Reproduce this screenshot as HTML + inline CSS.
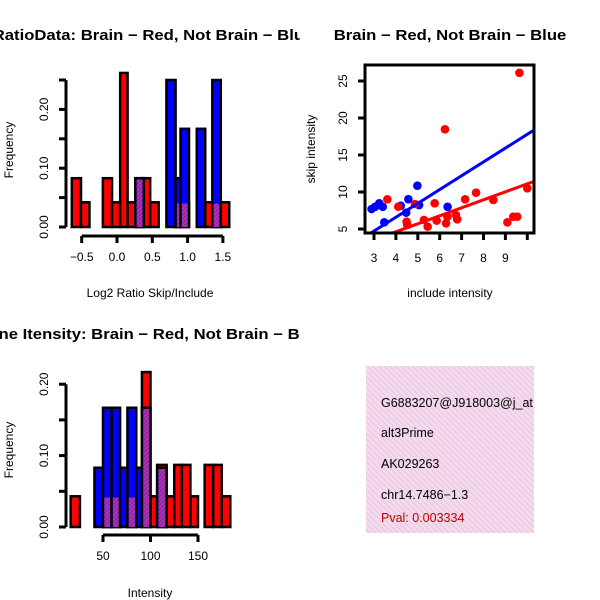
<!DOCTYPE html>
<html><head><meta charset="utf-8">
<style>
html,body{margin:0;padding:0;background:#fff;}
svg{display:block;font-family:"Liberation Sans",sans-serif;}
</style></head>
<body>
<svg id="c" width="600" height="600" viewBox="0 0 600 600">
<defs>
<pattern id="hatchP" patternUnits="userSpaceOnUse" width="3" height="3" patternTransform="rotate(45)">
<rect width="3" height="3" fill="#9a22a8"/><rect width="1" height="3" fill="#b040b8"/>
</pattern>
<pattern id="hatchBox" patternUnits="userSpaceOnUse" width="4" height="4" patternTransform="rotate(-45)">
<rect width="4" height="4" fill="#f8d8f2"/><rect width="1.3" height="4" fill="#e4cfd8"/>
</pattern>
<clipPath id="q1"><rect x="0" y="0" width="300" height="300"/></clipPath>
<clipPath id="q3"><rect x="0" y="300" width="300" height="300"/></clipPath>
<clipPath id="scClip"><rect x="365" y="65" width="169" height="168"/></clipPath>
<clipPath id="boxClip"><rect x="366" y="366" width="168" height="167"/></clipPath>
</defs>
<g id="root"></g>
</svg>
<script>
// ---- Top-left histogram data (log2 ratio) ----
const ratioRedStart = [-0.64,-0.51,-0.20,-0.07,0.045,0.15,0.26,0.38,0.47,0.83,0.90,1.25,1.35,1.47];
const ratioRedEnd   = [-0.51,-0.39,-0.07,0.045,0.15,0.26,0.38,0.47,0.59,0.90,1.02,1.35,1.47,1.59];
const ratioRedFreq  = [0.083,0.042,0.083,0.042,0.262,0.042,0.083,0.083,0.042,0.042,0.042,0.042,0.042,0.042];
const ratioBlueStart = [0.26,0.70,0.83,0.90,1.13,1.35];
const ratioBlueEnd   = [0.38,0.83,0.90,1.02,1.25,1.47];
const ratioBlueFreq  = [0.083,0.25,0.083,0.167,0.167,0.25];
const ratioXTicks = [-0.5,0.0,0.5,1.0,1.5];
const ratioXLabels = ["\u22120.5","0.0","0.5","1.0","1.5"];
const ratioYTicks = [0,0.05,0.10,0.15,0.20,0.25];
const ratioYLabels = ["0.00","","0.10","","0.20",""];

// ---- Bottom-left histogram data (intensity) ----
const intRedStart = [16,50,59,75.7,91,100,107,117,125,133,142,157,166,175];
const intRedEnd   = [25.7,59,68,85,100,107,117,125,133,142,150,166,175,184];
const intRedFreq  = [0.043,0.043,0.043,0.043,0.217,0.043,0.087,0.043,0.087,0.087,0.043,0.087,0.087,0.043];
const intBlueStart = [41,50,59,68,75.7,85,91,107];
const intBlueEnd   = [50,59,68,75.7,85,91,100,117];
const intBlueFreq  = [0.083,0.167,0.167,0.083,0.167,0.083,0.167,0.083];
const intXTicks = [50,100,150];
const intXLabels = ["50","100","150"];
const intYTicks = [0,0.05,0.10,0.15,0.20];
const intYLabels = ["0.00","","0.10","","0.20"];

// ---- Scatter data ----
const blueInclude = [2.89,3.05,3.24,3.40,3.47,4.22,4.47,4.57,4.98,5.06,6.36];
const blueSkip    = [7.70,8.00,8.47,8.00,5.90,8.15,7.21,9.03,10.85,8.24,8.00];
const redInclude = [3.61,4.11,4.49,4.52,4.87,5.28,5.45,5.77,5.86,6.24,6.29,6.35,6.74,6.80,7.16,7.66,8.45,9.09,9.36,9.54,9.64,10.0];
const redSkip    = [9.01,8.01,5.99,5.54,8.38,6.22,5.32,8.47,6.13,18.47,5.77,6.66,6.89,6.31,9.01,9.91,8.92,5.90,6.66,6.66,26.1,10.5];
const blueFit = [-0.88,1.868]; // intercept, slope
const redFit  = [0.31,1.079];
const scXTicks = [3,4,5,6,7,8,9,10];
const scXLabels = ["3","4","5","6","7","8","9",""];
const scYTicks = [5,10,15,20,25];
const scYLabels = ["5","10","15","20","25"];

const NS="http://www.w3.org/2000/svg";
const root=document.getElementById('root');
function el(tag,attrs,parent){const e=document.createElementNS(NS,tag);for(const k in attrs)e.setAttribute(k,attrs[k]);(parent||root).appendChild(e);return e;}
function txt(s,attrs,parent){const t=el('text',attrs,parent);t.textContent=s;return t;}
function widen(t,f){const w=t.getComputedTextLength();if(w>0){t.setAttribute('textLength',w*f);t.setAttribute('lengthAdjust','spacingAndGlyphs');}}

function drawHist(g,xs,ys,rs,re,rf,bs,be,bf,name){
  for(let i=0;i<rs.length;i++){
    const r=el('rect',{x:xs(rs[i]),y:ys(rf[i]),width:xs(re[i])-xs(rs[i]),height:ys(0)-ys(rf[i]),fill:'#ff0000',stroke:'#000','stroke-width':2.5},g);
    
    
  }
  for(let i=0;i<bs.length;i++){
    const b=el('rect',{x:xs(bs[i]),y:ys(bf[i]),width:xs(be[i])-xs(bs[i]),height:ys(0)-ys(bf[i]),fill:'#0000ff',stroke:'#000','stroke-width':2.5},g);
    
    
    for(let j=0;j<rs.length;j++){
      const lo=Math.max(bs[i],rs[j]),hi=Math.min(be[i],re[j]);
      if(hi-lo>1e-6){
        const h=Math.min(bf[i],rf[j]);
        const p=el('rect',{x:xs(lo)+1.3,y:ys(h)+1.3,width:xs(hi)-xs(lo)-2.6,height:ys(0)-ys(h)-1.3,fill:'url(#hatchP)'},g);
        
        
      }
    }
  }
}
function yAxis(g,x,ys,ticks,labels,name){
  const l=el('line',{x1:x,x2:x,y1:ys(ticks[0]),y2:ys(ticks[ticks.length-1]),stroke:'#000','stroke-width':3},g);
  
  
  ticks.forEach((t,i)=>{
    el('line',{x1:x,x2:x-7,y1:ys(t),y2:ys(t),stroke:'#000','stroke-width':3},g);
    if(labels[i]){const tl=txt(labels[i],{x:x-18,y:ys(t),'font-size':12,'text-anchor':'middle',transform:`rotate(-90 ${x-18} ${ys(t)})`},g);
      
      }
  });
}
function xAxis(g,y,xs,ticks,labels,name,lineLo,lineHi){
  const l=el('line',{x1:xs(lineLo),x2:xs(lineHi),y1:y,y2:y,stroke:'#000','stroke-width':3},g);
  
  
  ticks.forEach((t,i)=>{
    el('line',{x1:xs(t),x2:xs(t),y1:y,y2:y+7,stroke:'#000','stroke-width':3},g);
    if(labels[i]){const tl=txt(labels[i],{x:xs(t),y:y+25,'font-size':12,'text-anchor':'middle'},g);
      
      }
  });
}

// ---------- Panel 1 ----------
const g1=el('g',{'clip-path':'url(#q1)'});


const xs1=v=>117+(v-0)*70.6, ys1=v=>227-v*588;
drawHist(g1,xs1,ys1,ratioRedStart,ratioRedEnd,ratioRedFreq,ratioBlueStart,ratioBlueEnd,ratioBlueFreq,'ratio');
yAxis(g1,66,ys1,ratioYTicks,ratioYLabels,'ratio');
xAxis(g1,236,xs1,ratioXTicks,ratioXLabels,'ratio',-0.5,1.5);
let t=txt('RatioData: Brain \u2212 Red, Not Brain \u2212 Blue',{x:153,y:40,'font-size':14.5,'font-weight':'bold','text-anchor':'middle'},g1);


widen(t,1.15);
t=txt('Log2 Ratio Skip/Include',{x:150,y:297,'font-size':12,'text-anchor':'middle'},g1);


t=txt('Frequency',{x:13,y:150,'font-size':12,'text-anchor':'middle',transform:'rotate(-90 13 150)'},g1);



// ---------- Panel 3 ----------
const g3=el('g',{'clip-path':'url(#q3)'});


const xs3=v=>103+(v-50)*0.95, ys3=v=>527-v*714;
drawHist(g3,xs3,ys3,intRedStart,intRedEnd,intRedFreq,intBlueStart,intBlueEnd,intBlueFreq,'intensity');
yAxis(g3,66,ys3,intYTicks,intYLabels,'intensity');
xAxis(g3,535,xs3,intXTicks,intXLabels,'intensity',50,150);
t=txt('Gene Itensity: Brain \u2212 Red, Not Brain \u2212 Blue',{x:150,y:339,'font-size':14.5,'font-weight':'bold','text-anchor':'middle'},g3);


widen(t,1.15);
t=txt('Intensity',{x:150,y:597,'font-size':12,'text-anchor':'middle'},g3);


t=txt('Frequency',{x:13,y:450,'font-size':12,'text-anchor':'middle',transform:'rotate(-90 13 450)'},g3);



// ---------- Scatter ----------
const g2=el('g',{});


const xs2=v=>374+(v-3)*21.9, ys2=v=>229-(v-5)*7.4;
const xMin=(365-374)/21.9+3, xMax=(534-374)/21.9+3;
const pts=el('g',{'clip-path':'url(#scClip)'},g2);
blueInclude.forEach((x,i)=>{const c=el('circle',{cx:xs2(x),cy:ys2(blueSkip[i]),r:4.3,fill:'#0000ff'},pts);
  
  });
redInclude.forEach((x,i)=>{const c=el('circle',{cx:xs2(x),cy:ys2(redSkip[i]),r:4.3,fill:'#ff0000'},pts);
  
  });
[[blueFit,'#0000ff','blue-fit-line'],[redFit,'#ff0000','red-fit-line']].forEach(([f,col,nm])=>{
  const l=el('line',{x1:xs2(xMin),y1:ys2(f[0]+f[1]*xMin),x2:xs2(xMax),y2:ys2(f[0]+f[1]*xMax),stroke:col,'stroke-width':3},pts);
  
  
});
const box=el('rect',{x:365,y:65,width:169,height:168,fill:'none',stroke:'#000','stroke-width':3},g2);


scXTicks.forEach((v,i)=>{el('line',{x1:xs2(v),x2:xs2(v),y1:233,y2:240,stroke:'#000','stroke-width':3},g2);
  if(scXLabels[i]){const tl=txt(scXLabels[i],{x:xs2(v),y:262,'font-size':12,'text-anchor':'middle'},g2);
  
  }});
scYTicks.forEach((v,i)=>{el('line',{x1:365,x2:358,y1:ys2(v),y2:ys2(v),stroke:'#000','stroke-width':3},g2);
  const tl=txt(scYLabels[i],{x:347,y:ys2(v),'font-size':12,'text-anchor':'middle',transform:`rotate(-90 347 ${ys2(v)})`},g2);
  
  });
t=txt('Brain \u2212 Red, Not Brain \u2212 Blue',{x:450,y:40,'font-size':14.5,'font-weight':'bold','text-anchor':'middle'},g2);


widen(t,1.15);
t=txt('include intensity',{x:450,y:297,'font-size':12,'text-anchor':'middle'},g2);


t=txt('skip intensity',{x:315,y:149,'font-size':12,'text-anchor':'middle',transform:'rotate(-90 315 149)'},g2);



// ---------- Info box ----------
const g4=el('g',{'clip-path':'url(#boxClip)'});


el('rect',{x:366,y:366,width:168,height:167,fill:'url(#hatchBox)'},g4);
const info=[['G6883207@J918003@j_at','#000',407,'gene-id'],['alt3Prime','#000',437,'event-type'],['AK029263','#000',468,'accession'],['chr14.7486\u22121.3','#000',499,'location'],['Pval: 0.003334','#c00000',522,'p-value']];
info.forEach(([s,c,y,n])=>{const tt=txt(s,{x:381,y:y,'font-size':12.5,fill:c},g4);
  
  });
</script>
</body></html>
